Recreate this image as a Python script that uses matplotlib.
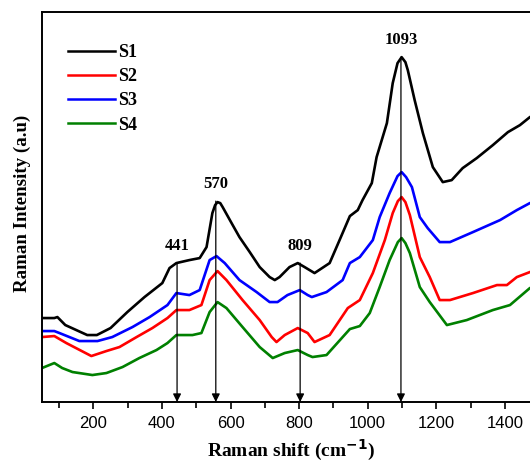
import matplotlib
matplotlib.use("Agg")
import matplotlib.pyplot as plt
import numpy as np

# Raman spectra (intensity in arbitrary units)
s1_shift = [50, 86, 95, 118, 150, 182, 210, 250, 299, 349, 401, 422, 442, 480, 510, 530, 547,
            555, 562, 570, 577, 603, 626, 656, 685, 714, 729, 743, 772, 796, 816, 845, 889,
            918, 948, 971, 985, 1012, 1026, 1056, 1073, 1087, 1099, 1110, 1117, 1137, 1161,
            1190, 1219, 1245, 1277, 1318, 1365, 1409, 1444, 1473, 1500]
s1_int = [84, 84, 85, 77, 72, 67, 67, 74, 90, 105, 119, 134, 139, 142, 144, 155, 189,
          197, 200, 199, 195, 179, 165, 150, 135, 125, 122, 125, 135, 139, 135, 129, 139,
          162, 186, 192, 202, 219, 245, 279, 319, 339, 345, 340, 332, 302, 269,
          235, 220, 222, 234, 244, 257, 270, 277, 285, 290]

s2_shift = [50, 86, 121, 194, 238, 276, 326, 372, 416, 442, 480, 515, 539, 562, 588, 635, 685,
            720, 734, 758, 796, 825, 845, 889, 942, 977, 1015, 1050, 1073, 1088, 1099, 1110,
            1123, 1152, 1181, 1210, 1240, 1307, 1377, 1406, 1435, 1473, 1500]
s2_int = [65, 66, 59, 46, 51, 55, 65, 74, 84, 92, 92, 97, 122, 131, 122, 102, 82,
          65, 60, 67, 74, 69, 60, 67, 94, 102, 129, 162, 189, 201, 205, 200,
          187, 145, 125, 102, 102, 109, 117, 117, 125, 130, 133]

s3_shift = [50, 86, 101, 159, 212, 255, 314, 364, 416, 442, 480, 510, 539, 559, 583, 626, 676,
            714, 737, 766, 802, 825, 837, 880, 927, 948, 977, 1015, 1035, 1064, 1087, 1099,
            1112, 1129, 1152, 1175, 1210, 1240, 1307, 1386, 1435, 1473, 1500]
s3_int = [71, 71, 69, 61, 61, 65, 75, 85, 97, 109, 107, 112, 142, 146, 139, 122, 110,
          100, 100, 107, 112, 107, 105, 110, 122, 139, 145, 162, 185, 209, 226, 230,
          225, 215, 185, 174, 160, 160, 170, 182, 192, 199, 202]

s4_shift = [50, 86, 109, 139, 197, 238, 285, 334, 384, 416, 442, 489, 515, 539, 562, 588, 635,
            685, 723, 758, 796, 825, 839, 880, 948, 977, 1006, 1035, 1064, 1088, 1099, 1110,
            1123, 1152, 1181, 1231, 1289, 1365, 1415, 1473, 1500]
s4_int = [34, 39, 34, 30, 27, 29, 35, 44, 52, 59, 67, 67, 69, 90, 100, 94, 75,
          55, 44, 49, 52, 47, 45, 47, 73, 76, 89, 115, 142, 160, 164, 159,
          149, 115, 100, 77, 82, 92, 97, 114, 117]

peak_labels = ["441", "570", "809", "1093"]
peak_pos = [444, 557, 803, 1097]
peak_top = [139, 201, 139, 345]

serif = ["Liberation Serif", "DejaVu Serif"]
plt.rcParams["font.family"] = ["Liberation Sans", "DejaVu Sans"]
plt.rcParams["lines.solid_joinstyle"] = "round"

fig = plt.figure(figsize=(5.3, 4.63), dpi=100)
ax = fig.add_axes([0.0792, 0.1317, 0.938, 0.842])

lw = 1.9
ax.plot(s1_shift, s1_int, color="black", lw=lw, label="S1")
ax.plot(s2_shift, s2_int, color="red", lw=lw, label="S2")
ax.plot(s3_shift, s3_int, color="blue", lw=lw, label="S3")
ax.plot(s4_shift, s4_int, color="green", lw=lw, label="S4")

for lab, x, top in zip(peak_labels, peak_pos, peak_top):
    ax.annotate("", xy=(x, 0), xytext=(x, top),
                arrowprops=dict(arrowstyle="-|>", color="black", lw=0.9,
                                mutation_scale=12, shrinkA=0, shrinkB=0))
    ax.text(x, top + 9, lab, ha="center", va="bottom", fontsize=12,
            fontweight="bold", family=serif)

ax.set_xlim(50, 1500)
ax.set_ylim(0, 390)
ax.set_xticks([200, 400, 600, 800, 1000, 1200, 1400])
ax.set_xticks(np.arange(100, 1500, 100), minor=True)
ax.set_yticks([])
ax.tick_params(axis="x", direction="out", length=5, width=1.2, labelsize=12, pad=5)
ax.tick_params(axis="x", which="minor", direction="out", length=4, width=1.2)
for sp in ax.spines.values():
    sp.set_linewidth(1.4)

ax.set_xlabel("Raman shift (cm$^{\\mathbf{-1}}$)", fontsize=14, fontweight="bold",
              family=serif, labelpad=5)
ax.set_ylabel("Raman Intensity (a.u)", fontsize=13.6, fontweight="bold",
              family=serif)
ax.yaxis.set_label_coords(-0.022, 0.51)

leg = ax.legend(loc="upper left", bbox_to_anchor=(0.02, 0.96), frameon=False,
                handlelength=2.6, handletextpad=0.15, labelspacing=0.4,
                prop={"family": serif, "weight": "bold", "size": 13})
for line in leg.get_lines():
    line.set_linewidth(1.8)

fig.savefig("out.png", dpi=100)
